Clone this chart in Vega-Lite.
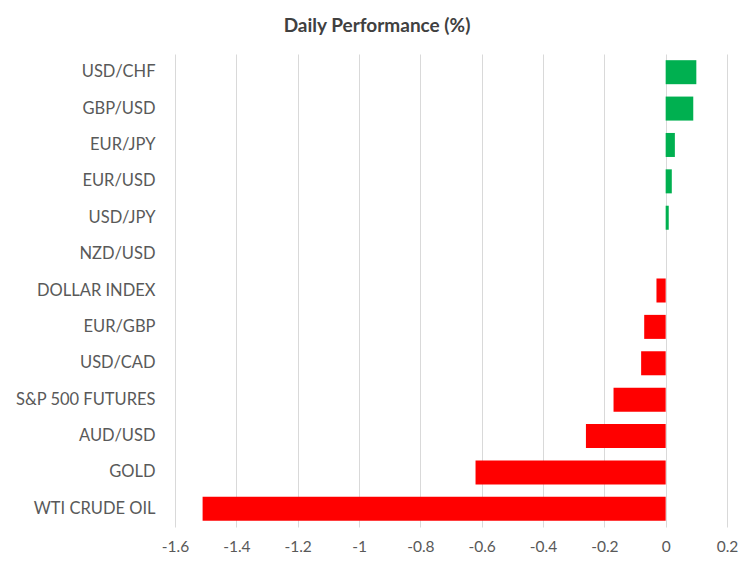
{
  "$schema": "https://vega.github.io/schema/vega-lite/v6.json",
  "autosize": {"type": "none"},
  "width": 552,
  "height": 473,
  "padding": {"left": 175, "top": 54, "right": 27, "bottom": 42},
  "background": "#ffffff",
  "title": {
    "text": "Daily Performance (%)",
    "font": "Lato",
    "fontSize": 19,
    "fontWeight": "bold",
    "color": "#404040",
    "anchor": "middle",
    "dx": -74,
    "offset": 18
  },
  "data": {
    "values": [
      {"asset": "USD/CHF", "change": 0.10},
      {"asset": "GBP/USD", "change": 0.09},
      {"asset": "EUR/JPY", "change": 0.03},
      {"asset": "EUR/USD", "change": 0.02},
      {"asset": "USD/JPY", "change": 0.01},
      {"asset": "NZD/USD", "change": 0.0},
      {"asset": "DOLLAR INDEX", "change": -0.03},
      {"asset": "EUR/GBP", "change": -0.07},
      {"asset": "USD/CAD", "change": -0.08},
      {"asset": "S&P 500 FUTURES", "change": -0.17},
      {"asset": "AUD/USD", "change": -0.26},
      {"asset": "GOLD", "change": -0.62},
      {"asset": "WTI CRUDE OIL", "change": -1.51}
    ]
  },
  "mark": {"type": "bar"},
  "encoding": {
    "y": {
      "field": "asset",
      "type": "nominal",
      "sort": null,
      "title": null,
      "scale": {"paddingInner": 0.34, "paddingOuter": 0.17},
      "axis": {
        "domain": false,
        "ticks": false,
        "grid": false,
        "labelFont": "Lato",
        "labelFontSize": 16.5,
        "labelColor": "#595959",
        "labelPadding": 20
      }
    },
    "x": {
      "field": "change",
      "type": "quantitative",
      "title": null,
      "scale": {"domain": [-1.6, 0.2], "nice": false, "zero": false},
      "axis": {
        "values": [-1.6, -1.4, -1.2, -1, -0.8, -0.6, -0.4, -0.2, 0, 0.2],
        "labelExpr": "toString(datum.value)",
        "labelFlush": false,
        "domain": false,
        "ticks": false,
        "gridColor": "#d9d9d9",
        "labelFont": "Lato",
        "labelFontSize": 15.5,
        "labelColor": "#595959",
        "labelPadding": 12
      }
    },
    "color": {
      "condition": {"test": "datum.change > 0", "value": "#00B050"},
      "value": "#FF0000"
    }
  },
  "config": {"view": {"stroke": null}}
}
